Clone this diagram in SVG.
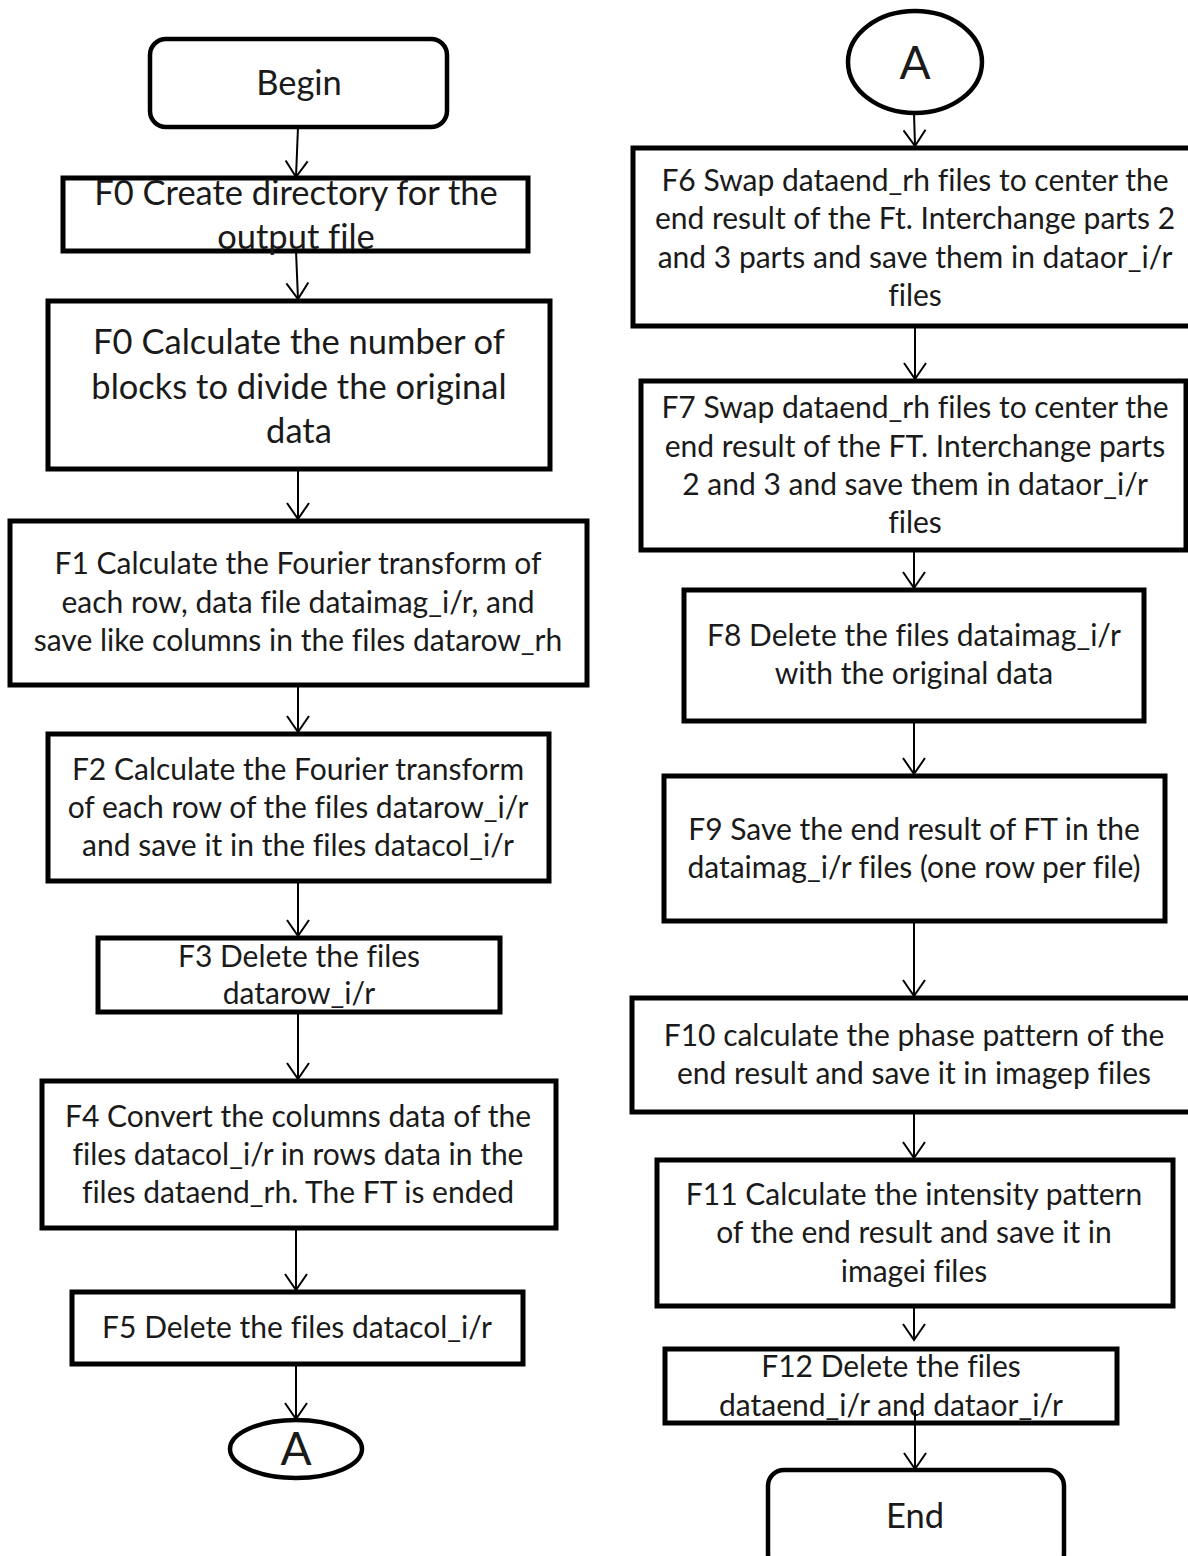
<svg xmlns="http://www.w3.org/2000/svg" width="1188" height="1556" viewBox="0 0 1188 1556">
  <style>
    .box { fill: #ffffff; stroke: #000000; stroke-width: 5; }
    .term { fill: #ffffff; stroke: #000000; stroke-width: 4.5; }
    .link { fill: none; stroke: #000000; stroke-width: 2; marker-end: url(#arrow); }
    text { font-family: Lato, "Open Sans", "Liberation Sans", sans-serif; fill: #1a1a1a; text-anchor: middle; font-variant-ligatures: none; font-feature-settings: "liga" 0, "clig" 0; }
    .t { font-size: 30px; }
    .tl { font-size: 34.5px; }
    .tA { font-size: 46px; }
  </style>
  <defs>
    <marker id="arrow" markerUnits="userSpaceOnUse" markerWidth="24" markerHeight="24" viewBox="0 0 24 24" refX="17" refY="12" orient="auto">
      <path d="M1,1 L17,12 L1,23" fill="none" stroke="#000000" stroke-width="2"/>
    </marker>
  </defs>

  <rect width="1188" height="1556" fill="#ffffff"/>

  <!-- connectors -->
  <g id="connectors">
    <line class="link" x1="298" y1="127" x2="296" y2="177"/>
    <line class="link" x1="296" y1="251" x2="298" y2="299"/>
    <line class="link" x1="298" y1="469" x2="298" y2="519"/>
    <line class="link" x1="298" y1="685" x2="298" y2="732"/>
    <line class="link" x1="298" y1="881" x2="298" y2="936"/>
    <line class="link" x1="298" y1="1012" x2="298" y2="1079"/>
    <line class="link" x1="296" y1="1228" x2="296" y2="1290"/>
    <line class="link" x1="296" y1="1364" x2="296" y2="1419"/>

    <line class="link" x1="914" y1="113" x2="915" y2="146"/>
    <line class="link" x1="915" y1="326" x2="915" y2="379"/>
    <line class="link" x1="914" y1="550" x2="914" y2="588"/>
    <line class="link" x1="914" y1="721" x2="914" y2="774"/>
    <line class="link" x1="914" y1="921" x2="914" y2="996"/>
    <line class="link" x1="914" y1="1112" x2="914" y2="1158"/>
    <line class="link" x1="914" y1="1306" x2="914" y2="1340"/>
  </g>

  <!-- left column -->
  <g id="begin">
    <rect class="term" x="150" y="39" width="297" height="88" rx="16"/>
    <text class="tl" x="299" y="95">Begin</text>
  </g>
  <g id="f0-create">
    <rect class="box" x="63" y="178" width="465" height="73"/>
    <text class="tl" x="296" y="205">F0 Create directory for the</text>
    <text class="tl" x="296" y="249">output file</text>
  </g>
  <g id="f0-blocks">
    <rect class="box" x="48" y="301" width="502" height="168"/>
    <text class="tl" x="299" y="354">F0 Calculate the number of</text>
    <text class="tl" x="299" y="399">blocks to divide the original</text>
    <text class="tl" x="299" y="443">data</text>
  </g>
  <g id="f1">
    <rect class="box" x="10" y="521" width="577" height="164"/>
    <text class="t" x="298" y="574">F1 Calculate the Fourier transform of</text>
    <text class="t" x="298" y="613">each row, data file dataimag_i/r, and</text>
    <text class="t" x="298" y="651">save like columns in the files datarow_rh</text>
  </g>
  <g id="f2">
    <rect class="box" x="48" y="734" width="501" height="147"/>
    <text class="t" x="298" y="780">F2 Calculate the Fourier transform</text>
    <text class="t" x="298" y="818">of each row of the files datarow_i/r</text>
    <text class="t" x="298" y="856">and save it in the files datacol_i/r</text>
  </g>
  <g id="f3">
    <rect class="box" x="98" y="938" width="402" height="74"/>
    <text class="t" x="299" y="967">F3 Delete the files</text>
    <text class="t" x="299" y="1004">datarow_i/r</text>
  </g>
  <g id="f4">
    <rect class="box" x="42" y="1081" width="514" height="147"/>
    <text class="t" x="298" y="1127">F4 Convert the columns data of the</text>
    <text class="t" x="298" y="1165">files datacol_i/r in rows data in the</text>
    <text class="t" x="298" y="1203">files dataend_rh. The FT is ended</text>
  </g>
  <g id="f5">
    <rect class="box" x="72" y="1292" width="451" height="72"/>
    <text class="t" x="297" y="1338">F5 Delete the files datacol_i/r</text>
  </g>
  <g id="connector-a-out">
    <ellipse class="term" cx="296" cy="1449" rx="66" ry="29"/>
    <text class="tA" x="296" y="1465">A</text>
  </g>

  <!-- right column -->
  <g id="connector-a-in">
    <ellipse class="term" cx="915" cy="62" rx="67" ry="51"/>
    <text class="tA" x="915" y="79">A</text>
  </g>
  <g id="f6">
    <rect class="box" x="633" y="148" width="570" height="178"/>
    <text class="t" x="915" y="191">F6 Swap dataend_rh files to center the</text>
    <text class="t" x="915" y="229">end result of the Ft. Interchange parts 2</text>
    <text class="t" x="915" y="268">and 3 parts and save them in dataor_i/r</text>
    <text class="t" x="915" y="306">files</text>
  </g>
  <g id="f7">
    <rect class="box" x="641" y="381" width="545" height="169"/>
    <text class="t" x="915" y="418">F7 Swap dataend_rh files to center the</text>
    <text class="t" x="915" y="457">end result of the FT. Interchange parts</text>
    <text class="t" x="915" y="495">2 and 3 and save them in dataor_i/r</text>
    <text class="t" x="915" y="533">files</text>
  </g>
  <g id="f8">
    <rect class="box" x="684" y="590" width="460" height="131"/>
    <text class="t" x="914" y="646">F8 Delete the files dataimag_i/r</text>
    <text class="t" x="914" y="684">with the original data</text>
  </g>
  <g id="f9">
    <rect class="box" x="664" y="776" width="501" height="145"/>
    <text class="t" x="914" y="840">F9 Save the end result of FT in the</text>
    <text class="t" x="914" y="878">dataimag_i/r files (one row per file)</text>
  </g>
  <g id="f10">
    <rect class="box" x="632" y="998" width="570" height="114"/>
    <text class="t" x="914" y="1046">F10 calculate the phase pattern of the</text>
    <text class="t" x="914" y="1084">end result and save it in imagep files</text>
  </g>
  <g id="f11">
    <rect class="box" x="657" y="1160" width="516" height="146"/>
    <text class="t" x="914" y="1205">F11 Calculate the intensity pattern</text>
    <text class="t" x="914" y="1243">of the end result and save it in</text>
    <text class="t" x="914" y="1282">imagei files</text>
  </g>
  <g id="f12">
    <rect class="box" x="665" y="1349" width="452" height="74"/>
    <text class="t" x="891" y="1377">F12 Delete the files</text>
    <text class="t" x="891" y="1416">dataend_i/r and dataor_i/r</text>
  </g>
  <line class="link" x1="915" y1="1410" x2="915" y2="1469"/>
  <g id="end">
    <rect class="term" x="768" y="1470" width="296" height="100" rx="16"/>
    <text class="tl" x="915" y="1528">End</text>
  </g>
</svg>
